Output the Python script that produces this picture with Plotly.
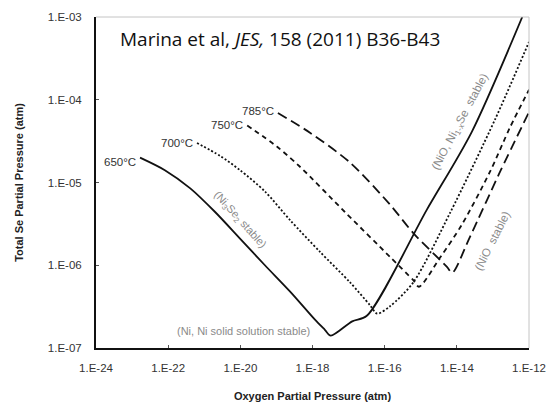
import math
import plotly.graph_objects as go

# Oxygen partial pressure (atm) and total Se partial pressure (atm)
po2_650 = [1.66e-23, 8.1e-23, 4.1e-22, 2.0e-21, 9.8e-21, 4.8e-20, 2.4e-19, 1.17e-18,
           2.2e-18, 3.2e-18, 1.26e-17, 3.2e-17, 1.48e-15, 2.6e-14, 6.5e-13]
pse_650 = [2.0e-5, 1.41e-5, 8.5e-6, 4.4e-6, 2.1e-6, 1.0e-6, 4.8e-7, 2.2e-7,
           1.66e-7, 1.41e-7, 2.1e-7, 2.45e-7, 4.7e-6, 4.1e-5, 1.0e-3]

po2_700 = [6.3e-22, 2.75e-21, 9.8e-21, 4.8e-20, 2.4e-19, 1.62e-18, 1.1e-17, 3.9e-17,
           6.2e-17, 1.41e-16, 6.2e-16, 6.5e-15, 1.15e-13, 1.0e-12]
pse_700 = [3.0e-5, 2.1e-5, 1.41e-5, 7.8e-6, 3.5e-6, 1.45e-6, 6.2e-7, 3.3e-7,
           2.6e-7, 3.2e-7, 6.2e-7, 4.3e-6, 5.8e-5, 5.0e-4]

po2_750 = [1.55e-20, 1.05e-19, 4.5e-19, 7.9e-18, 1.41e-16, 6.2e-16, 8.9e-16,
           3.4e-15, 1.38e-14, 8.3e-14, 2.95e-13, 1.0e-12]
pse_750 = [4.9e-5, 2.7e-5, 1.55e-5, 4.4e-6, 1.26e-6, 6.6e-7, 5.5e-7,
           1.23e-6, 3.1e-6, 1.35e-5, 4.6e-5, 1.32e-4]

po2_785 = [1.1e-19, 8.5e-19, 1.1e-17, 1.41e-16, 6.2e-16, 5.4e-15, 7.4e-15,
           2.35e-14, 1.58e-13, 1.0e-12]
pse_785 = [6.9e-5, 4.0e-5, 1.74e-5, 5.4e-6, 2.45e-6, 9.5e-7, 8.1e-7,
           2.24e-6, 1.35e-5, 7.1e-5]

temps = ["650°C", "700°C", "750°C", "785°C"]

x_tickvals = [1e-24, 1e-22, 1e-20, 1e-18, 1e-16, 1e-14, 1e-12]
x_ticktext = ["1.E-24", "1.E-22", "1.E-20", "1.E-18", "1.E-16", "1.E-14", "1.E-12"]
y_tickvals = [1e-7, 1e-6, 1e-5, 1e-4, 1e-3]
y_ticktext = ["1.E-07", "1.E-06", "1.E-05", "1.E-04", "1.E-03"]

series = [
    (po2_650, pse_650, "solid"),
    (po2_700, pse_700, "2px,2px"),
    (po2_750, pse_750, "5px,4px"),
    (po2_785, pse_785, "10px,5px"),
]

FONT = "Arial, Liberation Sans, sans-serif"

fig = go.Figure()
for (xs, ys, dash), name in zip(series, temps):
    fig.add_trace(go.Scatter(x=xs, y=ys, mode="lines", name=name,
                             line=dict(color="#111111", width=1.8, dash=dash,
                                       shape="spline", smoothing=0.8),
                             showlegend=False, hoverinfo="skip"))

# temperature labels at the start of each curve
shifts = [-4, 0, 0, 2]
for (xs, ys, dash), name, ys_ in zip(series, temps, shifts):
    fig.add_annotation(x=math.log10(xs[0]), y=math.log10(ys[0]), text=name,
                       showarrow=False, xanchor="right", yanchor="middle",
                       xshift=-2, yshift=ys_,
                       font=dict(family=FONT, size=11.5, color="#333333"))

gray = "#8a8a8a"
fig.add_annotation(x=-20.01, y=-5.45, text="(Ni<sub>3</sub>Se<sub>2</sub> stable)",
                   showarrow=False, textangle=48,
                   font=dict(family=FONT, size=11, color=gray))
fig.add_annotation(x=-19.92, y=-6.8, text="(Ni, Ni solid solution stable)",
                   showarrow=False, xanchor="center", yanchor="middle",
                   font=dict(family=FONT, size=11, color=gray))
fig.add_annotation(x=-13.9, y=-4.27, text="(NiO, Ni<sub>1-x</sub>Se  stable)",
                   showarrow=False, textangle=-62,
                   font=dict(family=FONT, size=11.5, color=gray))
fig.add_annotation(x=-13.0, y=-5.7, text="(NiO  stable)",
                   showarrow=False, textangle=-63,
                   font=dict(family=FONT, size=11.5, color=gray))

fig.add_annotation(xref="paper", yref="paper", x=0.425, y=0.934,
                   text="Marina et al, <i>JES,</i> 158 (2011) B36-B43",
                   showarrow=False, xanchor="center", yanchor="middle",
                   font=dict(family="Open Sans", size=19, color="#111111"))

# light frame on top and right
fig.add_shape(type="line", xref="paper", yref="paper", x0=0, x1=1, y0=1, y1=1,
              line=dict(color="#c4c4c4", width=1))
fig.add_shape(type="line", xref="paper", yref="paper", x0=1, x1=1, y0=0, y1=1,
              line=dict(color="#c4c4c4", width=1))

fig.update_xaxes(type="log", range=[-24, -12], tickvals=x_tickvals, ticktext=x_ticktext,
                 ticks="inside", ticklen=3, tickcolor="#555", showgrid=False, zeroline=False,
                 showline=True, linecolor="#111111", linewidth=2,
                 ticklabelstandoff=8,
                 tickfont=dict(family=FONT, size=11.5, color="#333333"),
                 title=dict(text="<b>Oxygen Partial Pressure (atm)</b>", standoff=20,
                            font=dict(family=FONT, size=11, color="#222222")))
fig.update_yaxes(type="log", range=[-7, -3], tickvals=y_tickvals, ticktext=y_ticktext,
                 ticks="inside", ticklen=3, tickcolor="#555", showgrid=False, zeroline=False,
                 showline=True, linecolor="#111111", linewidth=2,
                 ticklabelstandoff=10,
                 tickfont=dict(family=FONT, size=11.5, color="#333333"),
                 title=dict(text="<b>Total Se Partial Pressure (atm)</b>", standoff=22,
                            font=dict(family=FONT, size=11, color="#222222")))

fig.update_layout(width=558, height=418, margin=dict(l=96, r=29, t=17, b=70),
                  paper_bgcolor="white", plot_bgcolor="white")

fig.write_html("out.html")
